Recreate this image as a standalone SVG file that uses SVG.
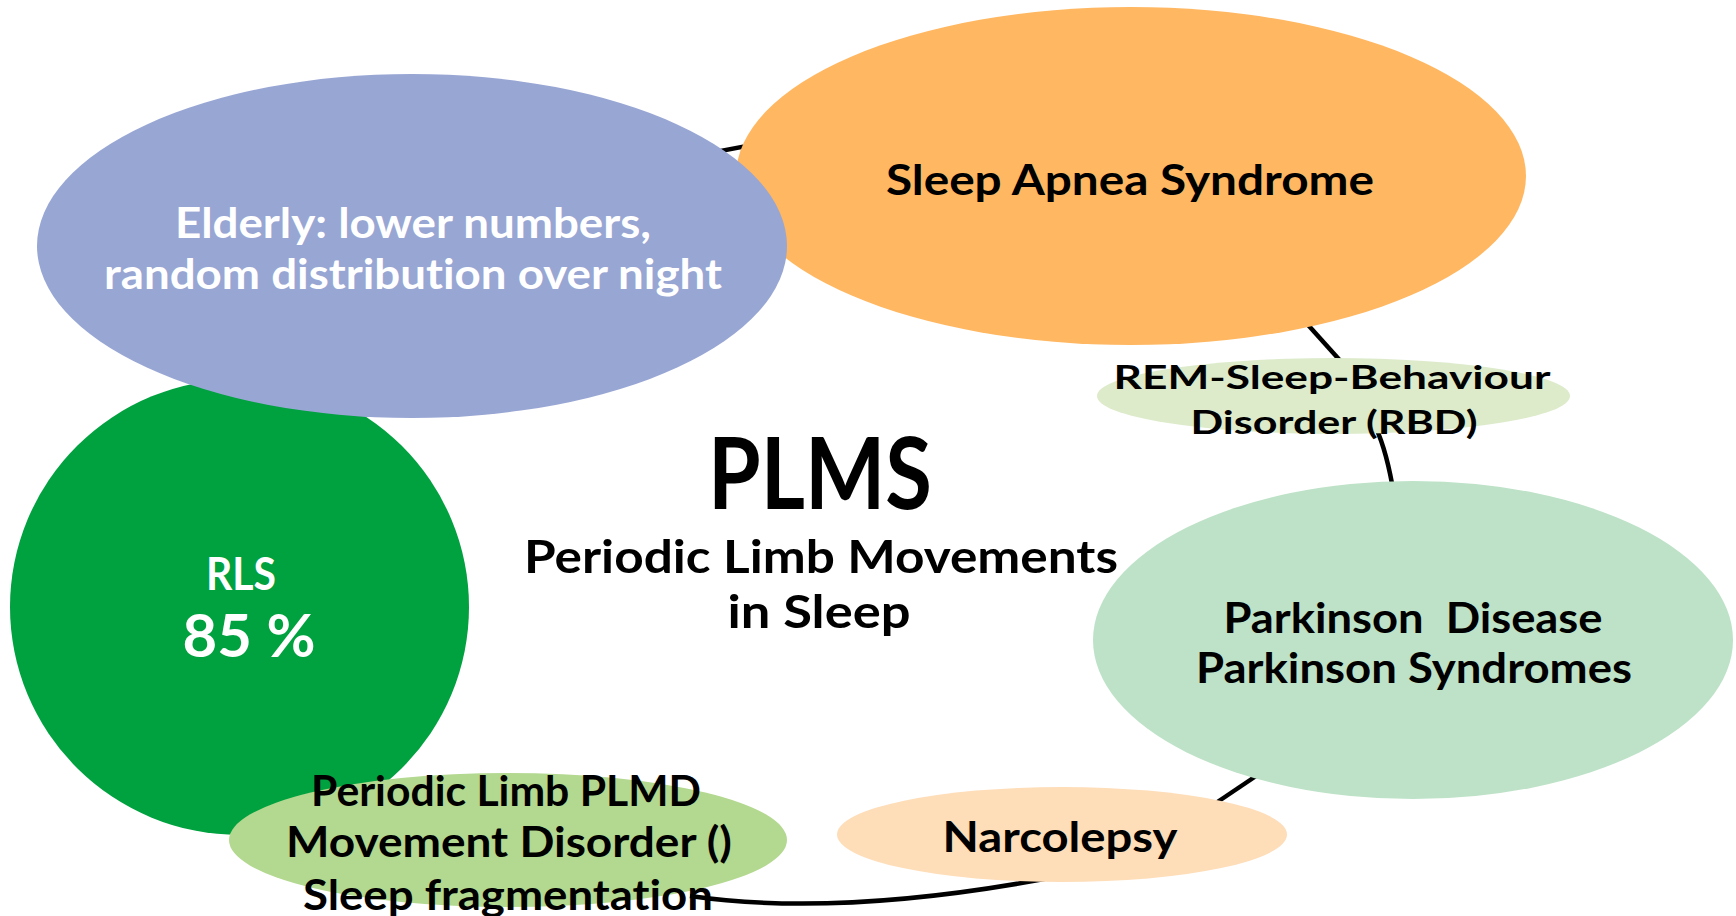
<svg xmlns="http://www.w3.org/2000/svg" width="1736" height="916" viewBox="0 0 1736 916">
<style>
.t{font-family:"Lato","Liberation Sans",sans-serif;font-weight:700;text-anchor:middle;fill:#000;white-space:pre;font-variant-ligatures:none;font-feature-settings:"liga" 0}
.w{fill:#fff}
.c{fill:none;stroke:#000;stroke-width:4.5;stroke-linecap:butt}
</style>
<rect width="1736" height="916" fill="#fff"/>
<g id="connectors">
<path class="c" d="M 680 160 Q 730 148 780 140"/>
<path class="c" d="M 1300 316 L 1345 366"/>
<path class="c" d="M 1376 428 Q 1387 452 1394 495"/>
<path class="c" d="M 1262 772 L 1210 807"/>
<path class="c" d="M 1060 876 Q 842 918 690 896"/>
</g>
<g id="sleep-apnea">
<ellipse cx="1131" cy="176" rx="395" ry="169" fill="#FFB761"/>
<text class="t" x="1130" y="195" font-size="42" textLength="488" lengthAdjust="spacingAndGlyphs">Sleep Apnea Syndrome</text>
</g>
<g id="rem">
<ellipse cx="1333.5" cy="396" rx="236.5" ry="38" fill="#DDEBCB"/>
<text class="t" x="1332" y="389" font-size="33" textLength="437" lengthAdjust="spacingAndGlyphs">REM-Sleep-Behaviour</text>
<text class="t" x="1334" y="434" font-size="33" textLength="287" lengthAdjust="spacingAndGlyphs">Disorder (RBD)</text>
</g>
<g id="parkinson">
<ellipse cx="1413" cy="640" rx="320" ry="159" fill="#BDE2C7"/>
<text class="t" x="1413" y="633" font-size="42" textLength="379" lengthAdjust="spacingAndGlyphs">Parkinson  Disease</text>
<text class="t" x="1414" y="683" font-size="42" textLength="436" lengthAdjust="spacingAndGlyphs">Parkinson Syndromes</text>
</g>
<g id="narcolepsy">
<ellipse cx="1062" cy="834.5" rx="225" ry="47.5" fill="#FEDDB9"/>
<text class="t" x="1060" y="852" font-size="42" textLength="235" lengthAdjust="spacingAndGlyphs">Narcolepsy</text>
</g>
<g id="rls">
<ellipse cx="239.5" cy="607" rx="229.5" ry="228" fill="#00A13F"/>
<text class="t w" x="241" y="590" font-size="45" textLength="70" lengthAdjust="spacingAndGlyphs">RLS</text>
<text class="t w" x="249" y="657" font-size="60" textLength="133" lengthAdjust="spacingAndGlyphs">85 %</text>
</g>
<g id="elderly">
<ellipse cx="412" cy="246" rx="375" ry="172" fill="#98A6D4"/>
<text class="t w" x="413" y="238" font-size="42" textLength="476" lengthAdjust="spacingAndGlyphs">Elderly: lower numbers,</text>
<text class="t w" x="413" y="289" font-size="42" textLength="618" lengthAdjust="spacingAndGlyphs">random distribution over night</text>
</g>
<g id="plmd">
<ellipse cx="508" cy="840" rx="279" ry="67" fill="#B3D88F"/>
<text class="t" x="506" y="806" font-size="42" textLength="390" lengthAdjust="spacingAndGlyphs">Periodic Limb PLMD</text>
<text class="t" x="509" y="857" font-size="42" textLength="446" lengthAdjust="spacingAndGlyphs">Movement Disorder ()</text>
<text class="t" x="508" y="910" font-size="42" textLength="410" lengthAdjust="spacingAndGlyphs">Sleep fragmentation</text>
</g>
<g id="plms">
<text class="t" x="820" y="509" font-size="100" textLength="224" lengthAdjust="spacingAndGlyphs">PLMS</text>
<text class="t" x="821" y="573" font-size="46" textLength="594" lengthAdjust="spacingAndGlyphs">Periodic Limb Movements</text>
<text class="t" x="819" y="628" font-size="46" textLength="183" lengthAdjust="spacingAndGlyphs">in Sleep</text>
</g>
</svg>
